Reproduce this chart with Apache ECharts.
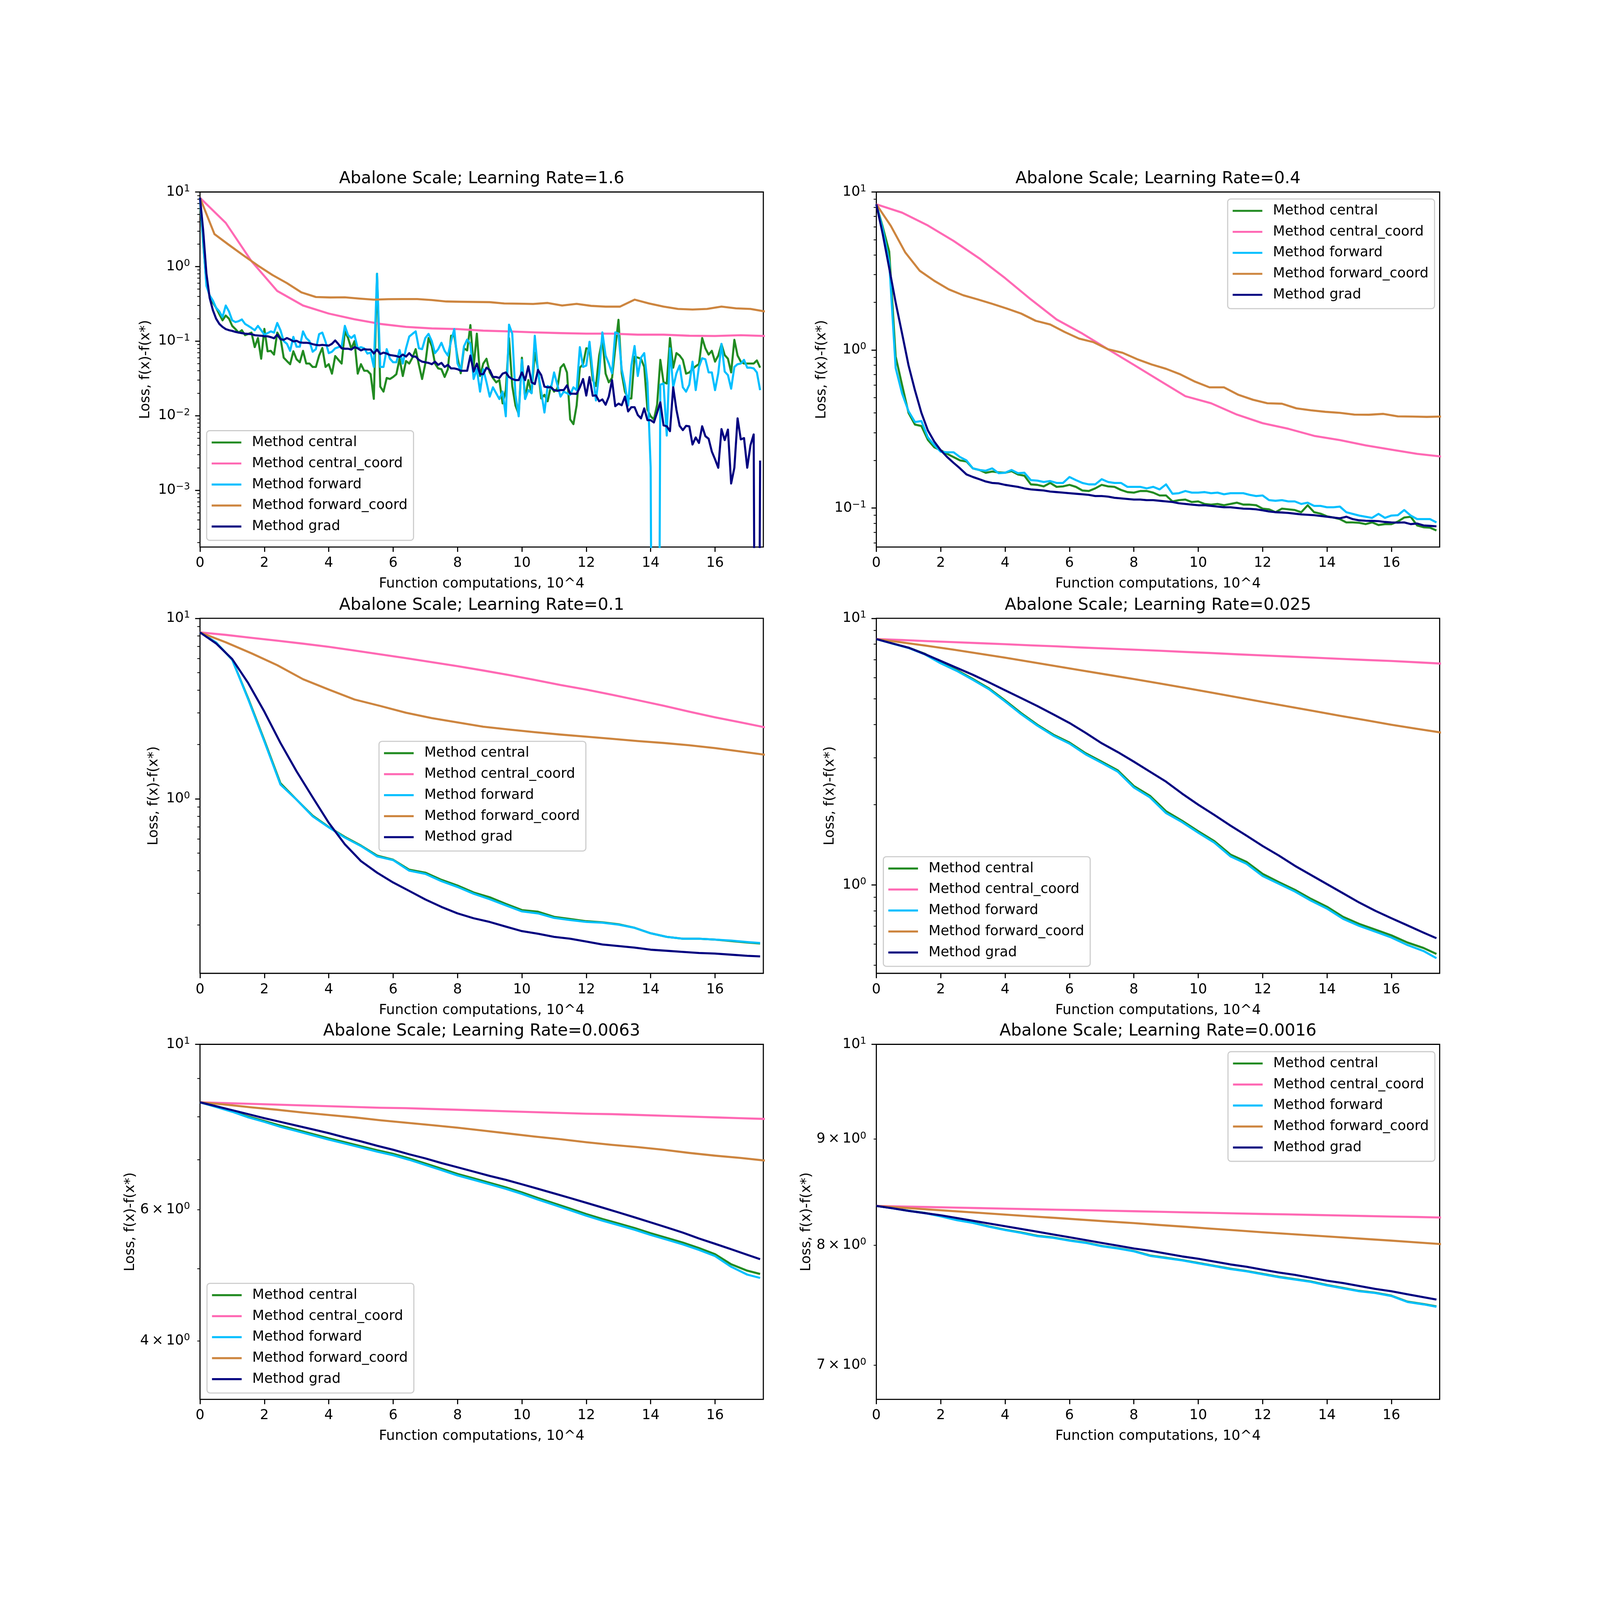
<!DOCTYPE html>
<html><head><meta charset="utf-8">
<script src="https://cdn.jsdelivr.net/npm/echarts@6/dist/echarts.min.js"></script>
<style>html,body{margin:0;padding:0;background:#fff;overflow:hidden}#c{position:absolute;left:0;top:0}</style>
</head><body><div id="c"></div>
<script>
// ---------- text ----------
const METHODS = ['Method central','Method central_coord','Method forward','Method forward_coord','Method grad'];
const COLORS = ['#228B22','#FF69B4','#00BFFF','#CD853F','#000080'];
const TITLES = ['Abalone Scale; Learning Rate=1.6','Abalone Scale; Learning Rate=0.4','Abalone Scale; Learning Rate=0.1',
  'Abalone Scale; Learning Rate=0.025','Abalone Scale; Learning Rate=0.0063','Abalone Scale; Learning Rate=0.0016'];
const XLABEL = 'Function computations, 10^4';
const YLABEL = 'Loss, f(x)-f(x*)';
const X_TICKS = [0,2,4,6,8,10,12,14,16];
const X_MAX = 17.5;
const Y_MAX = 10;
const Y_MIN = [1.73e-4, 0.0566, 0.108, 0.466, 3.34, 6.74];
const MAJOR_TICKS = [[1e-3,1e-2,1e-1,1,10],[0.1,1,10],[1,10],[1,10],[10],[10]];
const MINOR_LABELS = [[],[],[],[],[4,6],[7,8,9]];

// ---------- x sample grids (function computations, 10^4) ----------
const X01 = Array.from({length:175}, (_, i) => i / 10);   // 0 .. 17.4 step 0.1
const X02 = Array.from({length:88}, (_, i) => i / 5);     // 0 .. 17.4 step 0.2
const XS = [0,0.5,1,1.5,2,2.5,3,3.5,4,4.5,5,5.5,6,6.5,7,7.5,8,8.5,9,9.5,10,10.5,11,11.5,12,12.5,13,13.5,14,14.5,15,15.5,16,16.5,17,17.4];
const XC = [0,0.8,1.6,2.4,3.2,4,4.8,5.6,6.4,7.2,8,8.8,9.6,10.4,11.2,12,12.8,13.6,14.4,15.2,16,16.8,17.6];
const XF = [0,0.45,0.9,1.35,1.8,2.25,2.7,3.15,3.6,4.05,4.5,4.95,5.4,5.85,6.3,6.75,7.2,7.65,8.1,8.55,9,9.45,9.9,10.35,10.8,11.25,11.7,12.15,12.6,13.05,13.5,13.95,14.4,14.85,15.3,15.75,16.2,16.65,17.1,17.55];

// ---------- Panel 1 : LR = 1.6 ----------
const P1_CENTRAL = [
8.36,2.0,0.6,0.4,0.33,0.28,0.23,0.19,0.22,0.2,
0.16,0.145,0.13,0.14,0.12,0.125,0.13,0.083,0.11,0.058,
0.146,0.073,0.074,0.066,0.13,0.11,0.06,0.054,0.049,0.073,
0.057,0.052,0.074,0.05,0.05,0.045,0.045,0.064,0.081,0.045,
0.049,0.0366,0.063,0.056,0.05,0.135,0.11,0.079,0.1,0.0366,
0.049,0.04,0.04,0.036,0.0168,0.8,0.0245,0.021,0.032,0.031,
0.033,0.036,0.058,0.034,0.054,0.05,0.06,0.078,0.048,0.031,
0.05,0.11,0.086,0.05,0.043,0.042,0.033,0.042,0.118,0.118,
0.06,0.037,0.08,0.075,0.164,0.045,0.126,0.034,0.05,0.058,
0.038,0.032,0.028,0.03,0.0146,0.022,0.11,0.025,0.0137,0.0105,
0.06,0.017,0.03,0.02,0.07,0.042,0.017,0.019,0.0156,0.025,
0.021,0.023,0.044,0.049,0.038,0.0089,0.0077,0.0137,0.044,0.049,
0.08,0.078,0.03,0.025,0.064,0.106,0.0366,0.028,0.032,0.08,
0.193,0.037,0.021,0.017,0.017,0.062,0.06,0.058,0.045,0.012,
0.0098,0.0089,0.014,0.056,0.028,0.027,0.11,0.044,0.069,0.064,
0.056,0.0366,0.038,0.042,0.046,0.049,0.11,0.08,0.066,0.074,
0.053,0.064,0.091,0.065,0.058,0.038,0.104,0.064,0.053,0.05,
0.05,0.05,0.05,0.055,0.044];
const P1_CENTRAL_COORD = [8.36,3.85,1.18,0.47,0.30,0.234,0.196,0.17,0.155,0.148,0.145,0.138,0.135,0.131,0.128,0.126,0.126,0.122,0.122,0.118,0.117,0.12,0.117];
const P1_FORWARD = [
8.36,2.2,0.55,0.41,0.35,0.28,0.25,0.21,0.3,0.25,
0.19,0.18,0.185,0.195,0.17,0.16,0.15,0.14,0.16,0.14,
0.122,0.128,0.135,0.13,0.175,0.14,0.1,0.092,0.074,0.114,
0.084,0.084,0.135,0.11,0.1,0.072,0.078,0.124,0.13,0.098,
0.069,0.072,0.08,0.083,0.085,0.16,0.12,0.11,0.12,0.08,
0.083,0.08,0.068,0.07,0.045,0.8,0.045,0.045,0.078,0.058,
0.052,0.052,0.076,0.05,0.08,0.115,0.125,0.135,0.08,0.078,
0.11,0.125,0.1,0.069,0.078,0.095,0.074,0.064,0.1,0.145,
0.05,0.04,0.085,0.105,0.092,0.031,0.042,0.021,0.042,0.028,
0.018,0.024,0.02,0.0167,0.021,0.0098,0.166,0.126,0.019,0.0098,
0.056,0.0167,0.022,0.02,0.118,0.039,0.021,0.011,0.025,0.023,
0.038,0.026,0.018,0.021,0.02,0.019,0.024,0.022,0.083,0.045,
0.047,0.098,0.037,0.016,0.037,0.131,0.064,0.05,0.037,0.131,
0.126,0.042,0.026,0.0137,0.047,0.086,0.034,0.06,0.069,0.028,
0.002,1e-12,1e-12,0.026,0.027,0.0054,0.08,0.024,0.037,0.047,
0.024,0.021,0.026,0.053,0.022,0.045,0.059,0.057,0.038,0.038,
0.022,0.037,0.092,0.039,0.035,0.023,0.045,0.049,0.05,0.056,
0.044,0.044,0.043,0.038,0.022];
const P1_FORWARD_COORD = [8.36,2.72,1.95,1.41,1.03,0.77,0.6,0.45,0.39,0.385,0.387,0.372,0.36,0.365,0.366,0.366,0.355,0.34,0.337,0.335,
0.333,0.32,0.318,0.315,0.325,0.30,0.316,0.297,0.29,0.29,0.36,0.32,0.29,0.27,0.265,0.27,0.29,0.275,0.27,0.25];
const P1_GRAD = [
8.36,3.0,0.8,0.38,0.26,0.2,0.17,0.155,0.145,0.14,
0.137,0.133,0.13,0.128,0.126,0.125,0.124,0.12,0.119,0.118,
0.116,0.116,0.113,0.109,0.122,0.106,0.104,0.11,0.105,0.099,
0.101,0.096,0.095,0.095,0.094,0.091,0.089,0.088,0.089,0.088,
0.087,0.092,0.102,0.091,0.08,0.079,0.079,0.077,0.083,0.08,
0.075,0.078,0.077,0.077,0.068,0.077,0.067,0.07,0.068,0.065,
0.064,0.063,0.061,0.066,0.062,0.069,0.062,0.062,0.056,0.053,
0.052,0.051,0.049,0.053,0.048,0.051,0.045,0.048,0.043,0.043,
0.042,0.04,0.04,0.04,0.064,0.039,0.05,0.036,0.036,0.044,
0.041,0.033,0.033,0.032,0.0366,0.038,0.033,0.031,0.03,0.03,
0.038,0.03,0.046,0.028,0.0265,0.041,0.035,0.0245,0.024,0.024,
0.022,0.0215,0.022,0.022,0.0255,0.0197,0.0197,0.0196,0.024,0.031,
0.0186,0.033,0.0185,0.0187,0.0156,0.0165,0.014,0.018,0.03,0.0134,
0.0145,0.0138,0.018,0.0114,0.013,0.013,0.0102,0.0092,0.0125,0.0087,
0.0087,0.0081,0.011,0.0151,0.0074,0.0072,0.0062,0.024,0.012,0.0073,
0.0064,0.0073,0.0072,0.0041,0.0051,0.0043,0.0072,0.0053,0.0049,0.0033,
0.0026,0.002,0.0066,0.0047,0.0065,0.00123,0.002,0.0092,0.0048,0.005,
0.002,0.004,0.0056,1e-12,0.0025];

// ---------- Panel 2 : LR = 0.4 ----------
const P2_CENTRAL = [
8.36,6.0,4.2,0.91,0.6,0.4,0.337,0.33,0.27,0.242,
0.232,0.22,0.21,0.2,0.197,0.178,0.174,0.167,0.17,0.168,
0.167,0.171,0.163,0.16,0.141,0.14,0.137,0.144,0.136,0.137,
0.14,0.136,0.129,0.128,0.133,0.14,0.137,0.136,0.13,0.126,
0.125,0.128,0.128,0.125,0.12,0.12,0.11,0.112,0.113,0.109,
0.11,0.106,0.105,0.106,0.104,0.106,0.108,0.105,0.105,0.104,
0.099,0.098,0.094,0.099,0.098,0.097,0.094,0.104,0.094,0.092,
0.0885,0.087,0.085,0.081,0.081,0.0805,0.079,0.081,0.078,0.079,
0.079,0.082,0.087,0.088,0.0775,0.0755,0.075,0.072];
const P2_CENTRAL_COORD = [8.36,7.4,6.14,4.9,3.8,2.85,2.09,1.56,1.27,1.01,0.805,0.64,0.51,0.46,0.39,0.344,0.317,0.286,0.269,0.249,0.234,0.22,0.211];
const P2_FORWARD = [
8.36,5.8,3.6,0.77,0.53,0.41,0.35,0.355,0.28,0.25,
0.227,0.225,0.225,0.21,0.2,0.178,0.174,0.172,0.178,0.166,
0.167,0.174,0.166,0.167,0.15,0.149,0.146,0.148,0.144,0.144,
0.157,0.15,0.144,0.141,0.141,0.152,0.146,0.144,0.144,0.136,
0.136,0.136,0.133,0.136,0.131,0.141,0.123,0.124,0.128,0.125,
0.125,0.126,0.124,0.125,0.122,0.124,0.124,0.124,0.121,0.119,
0.12,0.112,0.111,0.112,0.11,0.11,0.106,0.108,0.103,0.103,
0.101,0.101,0.102,0.094,0.0917,0.0895,0.088,0.0865,0.0917,0.0865,
0.0895,0.09,0.097,0.0895,0.085,0.085,0.085,0.081];
const P2_FORWARD_COORD = [8.36,6.1,4.14,3.17,2.74,2.42,2.22,2.09,1.96,1.83,1.7,1.53,1.45,1.3,1.18,1.12,1.01,0.96,0.875,0.81,
0.76,0.70,0.63,0.58,0.58,0.52,0.484,0.46,0.457,0.427,0.415,0.406,0.4,0.39,0.389,0.394,0.38,0.379,0.377,0.379];
const P2_GRAD = [
8.36,5.4,3.3,2.0,1.27,0.8,0.555,0.4,0.31,0.263,
0.232,0.21,0.193,0.178,0.163,0.157,0.152,0.147,0.144,0.143,
0.14,0.138,0.136,0.133,0.131,0.13,0.129,0.127,0.126,0.125,
0.124,0.123,0.122,0.121,0.119,0.119,0.118,0.116,0.115,0.114,
0.113,0.113,0.112,0.112,0.111,0.11,0.109,0.107,0.106,0.105,
0.104,0.104,0.103,0.102,0.101,0.101,0.1,0.099,0.0987,0.098,
0.0966,0.095,0.094,0.0936,0.093,0.092,0.091,0.0905,0.09,0.089,
0.088,0.087,0.086,0.088,0.085,0.0835,0.083,0.0828,0.0825,0.0815,
0.081,0.0808,0.081,0.079,0.0797,0.0775,0.077,0.0765];

// ---------- Panel 3 : LR = 0.1 ----------
const P3_CENTRAL = [8.36,7.35,5.9,3.59,2.11,1.22,0.99,0.807,0.698,0.615,0.551,0.485,0.46,0.405,0.39,0.356,0.331,0.303,0.285,0.262,
0.242,0.237,0.222,0.216,0.21,0.207,0.202,0.193,0.18,0.172,0.168,0.168,0.166,0.163,0.16,0.158];
const P3_CENTRAL_COORD = [8.36,8.1,7.8,7.52,7.24,6.95,6.63,6.32,6.02,5.72,5.43,5.14,4.85,4.56,4.27,4.03,3.77,3.52,3.28,3.04,2.83,2.65,2.48];
const P3_FORWARD = [8.36,7.35,5.9,3.55,2.08,1.2,0.99,0.8,0.695,0.61,0.548,0.48,0.458,0.4,0.384,0.35,0.325,0.298,0.278,0.257,
0.238,0.232,0.219,0.213,0.208,0.206,0.201,0.193,0.18,0.172,0.168,0.168,0.166,0.164,0.161,0.159];
const P3_FORWARD_COORD = [8.36,7.37,6.4,5.5,4.6,4.03,3.55,3.27,3.0,2.8,2.65,2.51,2.42,2.34,2.27,2.21,2.15,2.09,2.04,1.98,1.91,1.83,1.75];
const P3_GRAD = [8.36,7.26,5.95,4.37,3.04,2.04,1.42,1.02,0.737,0.56,0.452,0.39,0.344,0.309,0.277,0.252,0.232,0.218,0.208,0.196,
0.185,0.179,0.172,0.168,0.162,0.156,0.153,0.15,0.146,0.144,0.142,0.14,0.139,0.137,0.135,0.134];

// ---------- Panel 4 : LR = 0.025 ----------
const P4_CENTRAL = [8.36,8.05,7.76,7.37,6.81,6.39,5.92,5.46,4.92,4.41,3.99,3.66,3.42,3.12,2.9,2.69,2.35,2.16,1.89,1.74,
1.59,1.46,1.3,1.22,1.1,1.025,0.959,0.887,0.828,0.759,0.714,0.68,0.647,0.608,0.58,0.551];
const P4_CENTRAL_COORD = [8.36,8.29,8.21,8.14,8.07,8.0,7.92,7.85,7.77,7.7,7.63,7.56,7.48,7.41,7.33,7.26,7.19,7.12,7.05,6.98,6.92,6.84,6.76];
const P4_FORWARD = [8.36,8.04,7.74,7.33,6.78,6.35,5.88,5.42,4.88,4.37,3.96,3.63,3.39,3.09,2.87,2.66,2.32,2.13,1.86,1.72,
1.57,1.44,1.28,1.2,1.08,1.01,0.945,0.873,0.815,0.746,0.702,0.668,0.635,0.595,0.565,0.531];
const P4_FORWARD_COORD = [8.36,8.12,7.88,7.63,7.37,7.12,6.86,6.61,6.37,6.14,5.92,5.7,5.48,5.27,5.06,4.86,4.67,4.49,4.31,4.15,3.99,3.85,3.72];
const P4_GRAD = [8.36,8.05,7.76,7.35,6.92,6.52,6.14,5.75,5.37,5.02,4.69,4.36,4.05,3.72,3.4,3.15,2.9,2.66,2.44,2.2,
2.0,1.83,1.67,1.53,1.4,1.29,1.18,1.09,1.007,0.93,0.859,0.8,0.75,0.705,0.662,0.631];

// ---------- Panel 5 : LR = 0.0063 ----------
const P5_CENTRAL = [8.36,8.25,8.13,8.0,7.89,7.78,7.68,7.58,7.48,7.39,7.3,7.21,7.13,7.03,6.92,6.81,6.7,6.61,6.52,6.43,
6.33,6.22,6.12,6.02,5.92,5.83,5.75,5.67,5.58,5.5,5.42,5.33,5.23,5.07,4.97,4.92];
const P5_CENTRAL_COORD = [8.36,8.34,8.32,8.3,8.28,8.26,8.24,8.22,8.21,8.19,8.17,8.15,8.13,8.11,8.09,8.07,8.06,8.04,8.02,8.0,7.98,7.96,7.94];
const P5_FORWARD = [8.36,8.24,8.12,7.98,7.87,7.75,7.65,7.55,7.45,7.36,7.27,7.18,7.1,7.0,6.89,6.78,6.67,6.58,6.49,6.4,
6.3,6.19,6.09,5.99,5.89,5.8,5.72,5.64,5.55,5.47,5.39,5.3,5.2,5.03,4.91,4.86];
const P5_FORWARD_COORD = [8.36,8.3,8.23,8.17,8.1,8.04,7.98,7.91,7.85,7.79,7.73,7.66,7.59,7.52,7.46,7.39,7.33,7.28,7.22,7.15,7.09,7.04,6.98];
const P5_GRAD = [8.36,8.26,8.16,8.06,7.96,7.87,7.78,7.69,7.6,7.5,7.41,7.31,7.22,7.12,7.03,6.93,6.84,6.75,6.66,6.58,
6.49,6.4,6.31,6.22,6.13,6.04,5.95,5.86,5.77,5.68,5.59,5.49,5.4,5.31,5.22,5.15];

// ---------- Panel 6 : LR = 0.0016 ----------
const P6_CENTRAL = [8.356,8.336,8.312,8.292,8.263,8.228,8.203,8.168,8.138,8.113,8.083,8.068,8.043,8.023,7.993,7.973,7.948,7.908,7.888,7.868,
7.843,7.818,7.793,7.773,7.748,7.723,7.703,7.683,7.653,7.628,7.603,7.588,7.563,7.513,7.493,7.473];
const P6_CENTRAL_COORD = [8.356,8.351,8.346,8.341,8.336,8.331,8.326,8.321,8.317,8.312,8.307,8.302,8.297,8.292,8.287,8.282,8.278,8.273,8.268,8.263,8.258,8.254,8.249];
const P6_FORWARD = [8.356,8.335,8.31,8.29,8.26,8.225,8.2,8.165,8.135,8.11,8.08,8.065,8.04,8.02,7.99,7.97,7.945,7.905,7.885,7.865,
7.84,7.815,7.79,7.77,7.745,7.72,7.7,7.68,7.65,7.625,7.6,7.585,7.56,7.51,7.49,7.47];
const P6_FORWARD_COORD = [8.356,8.34,8.324,8.308,8.292,8.276,8.26,8.245,8.229,8.213,8.198,8.181,8.165,8.148,8.132,8.115,8.1,8.085,8.07,8.055,8.04,8.024,8.008];
const P6_GRAD = [8.356,8.335,8.31,8.29,8.27,8.245,8.22,8.195,8.17,8.145,8.12,8.095,8.07,8.045,8.02,7.995,7.97,7.95,7.925,7.9,
7.88,7.855,7.83,7.81,7.785,7.76,7.74,7.715,7.69,7.67,7.645,7.62,7.6,7.575,7.55,7.53];

const PANEL_SERIES = [
  [[X01,P1_CENTRAL],[XC,P1_CENTRAL_COORD],[X01,P1_FORWARD],[XF,P1_FORWARD_COORD],[X01,P1_GRAD]],
  [[X02,P2_CENTRAL],[XC,P2_CENTRAL_COORD],[X02,P2_FORWARD],[XF,P2_FORWARD_COORD],[X02,P2_GRAD]],
  [[XS,P3_CENTRAL],[XC,P3_CENTRAL_COORD],[XS,P3_FORWARD],[XC,P3_FORWARD_COORD],[XS,P3_GRAD]],
  [[XS,P4_CENTRAL],[XC,P4_CENTRAL_COORD],[XS,P4_FORWARD],[XC,P4_FORWARD_COORD],[XS,P4_GRAD]],
  [[XS,P5_CENTRAL],[XC,P5_CENTRAL_COORD],[XS,P5_FORWARD],[XC,P5_FORWARD_COORD],[XS,P5_GRAD]],
  [[XS,P6_CENTRAL],[XC,P6_CENTRAL_COORD],[XS,P6_FORWARD],[XC,P6_FORWARD_COORD],[XS,P6_GRAD]]
];

// ---------- layout / style (designed on a 4800 px square, scaled to the viewport) ----------
const VW = window.innerWidth || 4800, VH = window.innerHeight || 4800;
const S = Math.min(VW, VH) / 4800;
const px = v => v * S;
const FONT = 'DejaVu Sans';
const FS = px(41.67), TFS = px(50);
const GRID_POS = [[600,576],[2629,576],[600,1855],[2629,1855],[600,3133],[2629,3133]];
const GRID_W = 1690, GRID_H = 1065;
const LEGEND_POS = [[620,1292],[3683,597],[1137,2224],[2650,2570],[621,3850],[3684,3155]];
const YNAME_GAP = [142,142,118,118,188,188];
const LINE_W = px(6.25);

const SUP = e => (e < 0 ? '\u2212' + (-e) : String(e));
const RICH = {
  b: {fontSize: FS, fontFamily: FONT, color: '#000', lineHeight: px(48)},
  s: {fontSize: px(29), fontFamily: FONT, color: '#000', lineHeight: px(29), verticalAlign: 'top'}
};
const majorFmt = v => '{b|10}{s|' + SUP(Math.round(v)) + '}';
const minorFmt = v => '{b|' + Math.round(Math.pow(10, v)) + '\u2009\u00d7\u200910}{s|0}';
const tickStyle = (len, w) => ({show: true, length: px(len), lineStyle: {color: '#000', width: px(w)}});

const grid = [], xAxis = [], yAxis = [], series = [], title = [], legend = [];
for (let i = 0; i < 6; i++) {
  const [gl, gt] = GRID_POS[i];
  const lo = Math.log10(Y_MIN[i]);
  grid.push({left: px(gl), top: px(gt), width: px(GRID_W), height: px(GRID_H), show: true, borderColor: '#000', borderWidth: px(3.3),
    backgroundColor: 'transparent', containLabel: false, outerBoundsMode: 'none'});
  title.push({text: TITLES[i], left: px(gl + GRID_W / 2), top: px(gt - 64), textAlign: 'center', padding: 0,
    textStyle: {fontSize: TFS, fontWeight: 'normal', fontFamily: FONT, color: '#000'}});
  xAxis.push({type: 'value', gridIndex: i, position: 'bottom', min: 0, max: X_MAX,
    name: XLABEL, nameLocation: 'middle', nameGap: px(90), nameMoveOverlap: false,
    nameTextStyle: {fontSize: FS, fontFamily: FONT, color: '#000'},
    axisLine: {show: false, onZero: false}, splitLine: {show: false},
    axisTick: Object.assign(tickStyle(14.6, 3.3), {customValues: X_TICKS}),
    axisLabel: {show: true, customValues: X_TICKS, margin: px(28), fontSize: FS, fontFamily: FONT, color: '#000'}});
  // data axis (log scale)
  yAxis.push({type: 'log', logBase: 10, gridIndex: i, position: 'left', min: Y_MIN[i], max: Y_MAX,
    axisLine: {show: false, onZero: false}, axisTick: {show: false}, axisLabel: {show: false}, splitLine: {show: false}});
  // major ticks / labels of the same log scale (exponent space)
  const majorE = MAJOR_TICKS[i].map(v => Math.round(Math.log10(v)));
  yAxis.push({type: 'value', gridIndex: i, position: 'left', min: lo, max: 1,
    name: YLABEL, nameLocation: 'middle', nameGap: px(YNAME_GAP[i]), nameMoveOverlap: false,
    nameTextStyle: {fontSize: FS, fontFamily: FONT, color: '#000'},
    axisLine: {show: false, onZero: false}, splitLine: {show: false},
    axisTick: Object.assign(tickStyle(14.6, 3.3), {customValues: majorE}),
    axisLabel: {show: true, customValues: majorE, margin: px(30), formatter: majorFmt, rich: RICH}});
  // minor ticks (2..9 x 10^k)
  const minorE = [];
  for (let e = Math.floor(lo); e < 1; e++) {
    for (let k = 2; k <= 9; k++) {
      const le = e + Math.log10(k);
      if (le >= lo && le <= 1) minorE.push(le);
    }
  }
  const minorLabE = MINOR_LABELS[i].map(v => Math.log10(v));
  yAxis.push({type: 'value', gridIndex: i, position: 'left', min: lo, max: 1,
    axisLine: {show: false, onZero: false}, splitLine: {show: false},
    axisTick: Object.assign(tickStyle(8, 2.5), {customValues: minorE}),
    axisLabel: minorLabE.length ? {show: true, customValues: minorLabE, margin: px(30), formatter: minorFmt, rich: RICH}
                                : {show: false}});
  PANEL_SERIES[i].forEach(([xs, ys], m) => {
    if (xs.length !== ys.length) throw new Error('length mismatch panel ' + (i + 1) + ' ' + METHODS[m] + ': ' + xs.length + ' vs ' + ys.length);
    series.push({type: 'line', name: METHODS[m], xAxisIndex: i, yAxisIndex: 3 * i,
      data: xs.map((x, j) => [x, ys[j]]), showSymbol: false, symbol: 'none', clip: true, silent: true,
      color: COLORS[m], lineStyle: {color: COLORS[m], width: LINE_W, join: 'round', cap: 'butt'},
      emphasis: {disabled: true}, animation: false, z: 2});
  });
  legend.push({left: px(LEGEND_POS[i][0]), top: px(LEGEND_POS[i][1]), orient: 'vertical', data: METHODS.slice(),
    icon: 'rect', itemWidth: px(89), itemHeight: px(6), itemGap: 0, selectedMode: false,
    padding: [px(4), px(18), px(10), px(15)], backgroundColor: 'rgba(255,255,255,0.8)', borderColor: '#cccccc',
    borderWidth: px(3.3), borderRadius: px(9),
    textStyle: {fontSize: FS, fontFamily: FONT, color: '#000', lineHeight: px(63), padding: [0, 0, 0, px(26)]}});
}

const el = document.getElementById('c');
el.style.width = px(4800) + 'px';
el.style.height = px(4800) + 'px';
const chart = echarts.init(el, null, {renderer: 'canvas', width: px(4800), height: px(4800)});
chart.setOption({animation: false, backgroundColor: '#fff', textStyle: {fontFamily: FONT},
  grid, xAxis, yAxis, series, title, legend});
</script>
</body></html>
